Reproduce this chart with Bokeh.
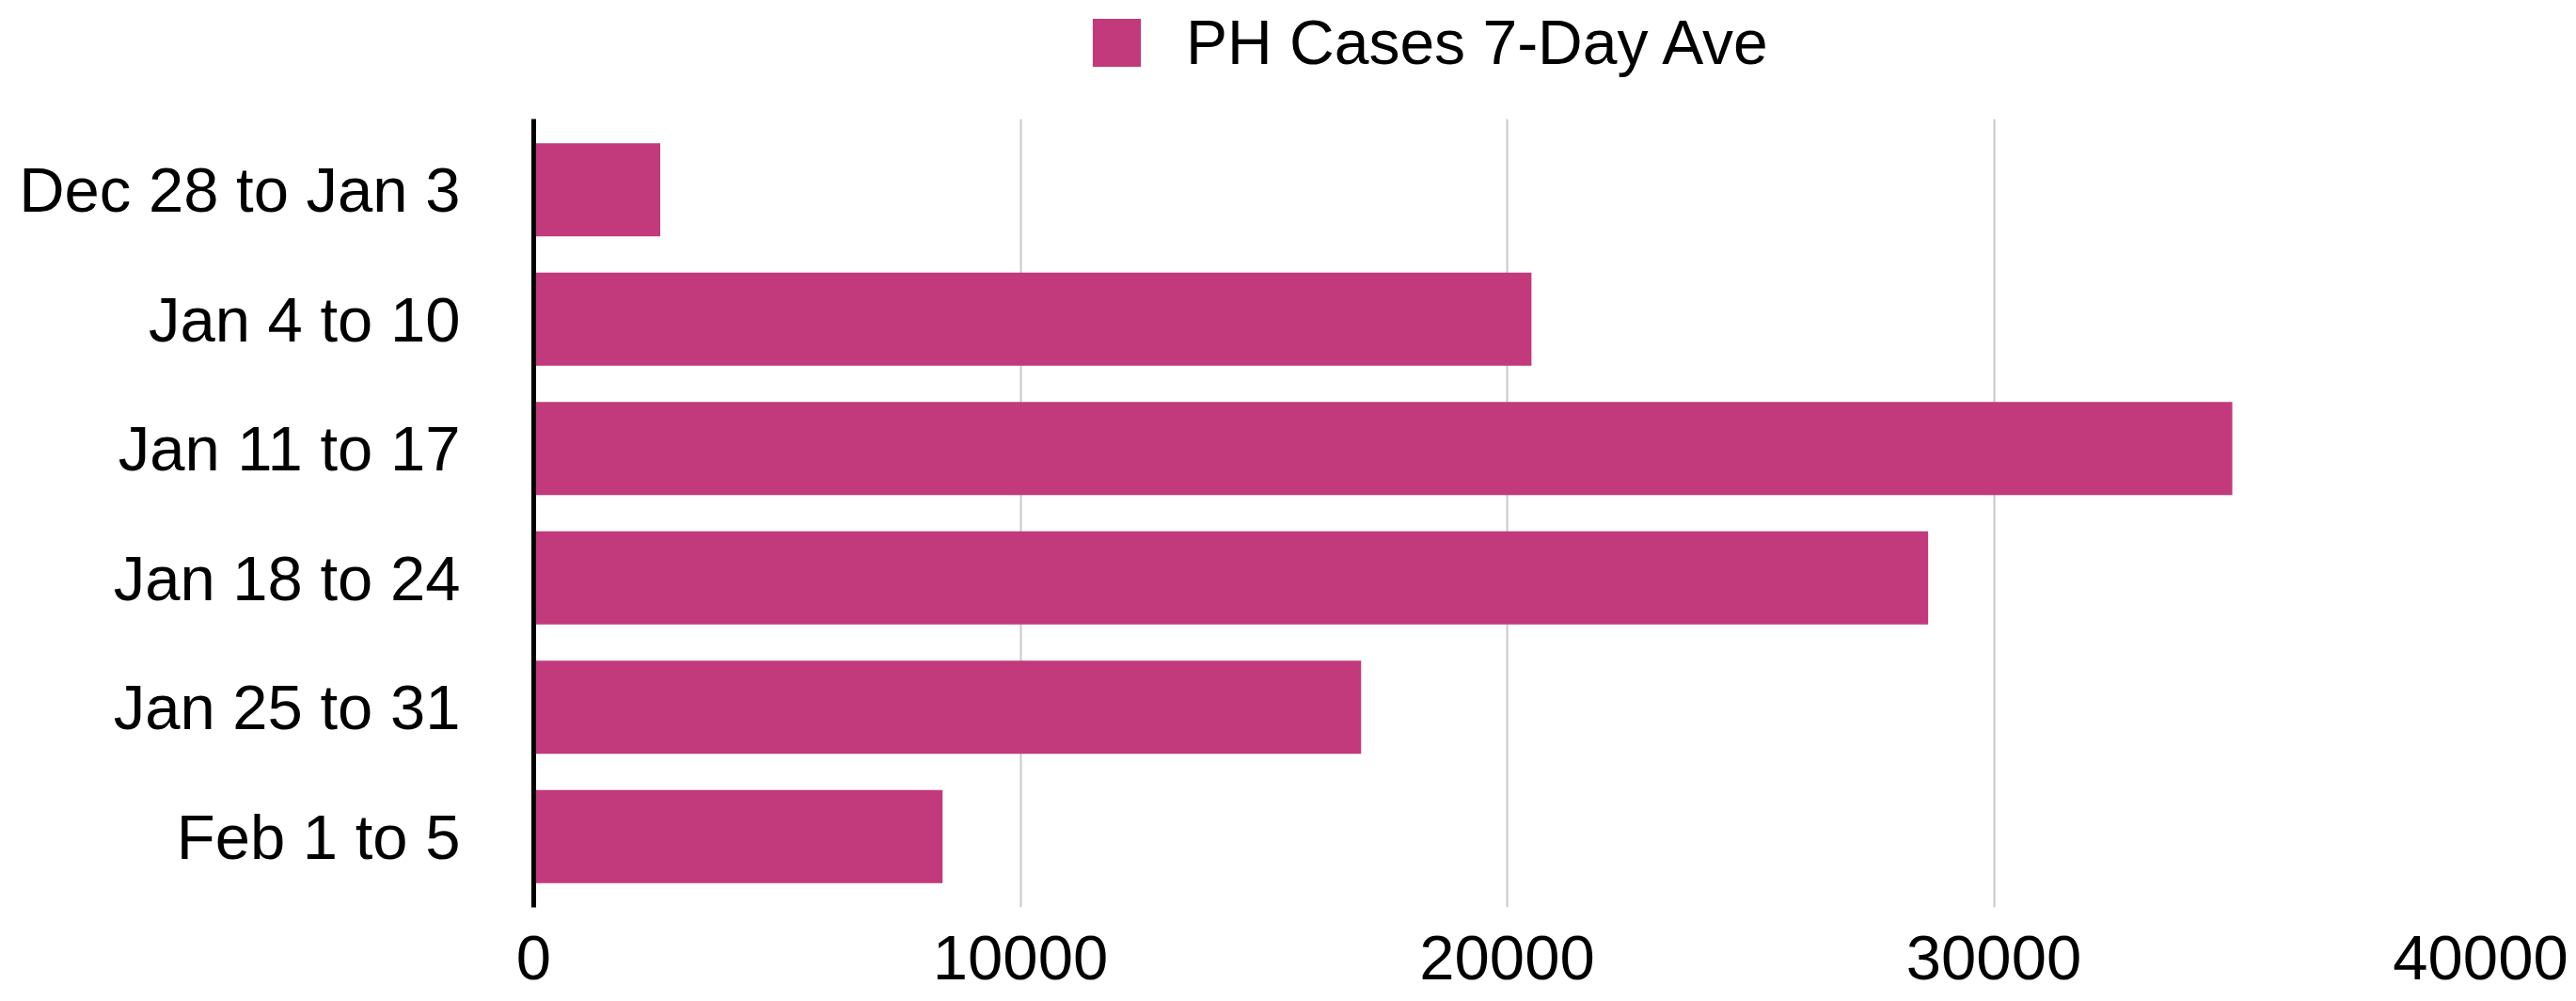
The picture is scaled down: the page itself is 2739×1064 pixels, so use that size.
from bokeh.plotting import figure
from bokeh.layouts import column
from bokeh.models import ColumnDataSource, FactorRange, Range1d, Legend, LegendItem, FixedTicker
from bokeh.embed import file_html
from bokeh.resources import INLINE

categories = ["Dec 28 to Jan 3", "Jan 4 to 10", "Jan 11 to 17", "Jan 18 to 24", "Jan 25 to 31", "Feb 1 to 5"]
cases = [2600, 20500, 34900, 28650, 17000, 8400]
x_ticks = [0, 10000, 20000, 30000, 40000]
series_name = "PH Cases 7-Day Ave"

FONT = "Liberation Sans"
BAR_COLOR = "#C23A7B"
W = 2739
BL, BR = 567, 102

src = ColumnDataSource(dict(cat=categories, val=cases))

# ---- legend strip (its swatch renderer uses the same data but is not drawn itself) ----
lg = figure(width=W, height=110, x_range=Range1d(0, 40000),
            y_range=FactorRange(factors=list(reversed(categories))),
            output_backend="svg", toolbar_location=None,
            min_border_left=BL, min_border_right=BR, min_border_top=0, min_border_bottom=0)
lg.axis.visible = False
lg.grid.visible = False
lg.outline_line_color = None
proxy = lg.hbar(y="cat", right="val", left=0, height=0.72, source=src,
                fill_color=BAR_COLOR, line_color=None)
proxy.visible = False
legend = Legend(items=[LegendItem(label=series_name, renderers=[proxy])],
                orientation="horizontal", location=(588, 27))
legend.label_text_font = FONT
legend.label_text_font_size = "66px"
legend.label_text_color = "black"
legend.glyph_width = 64
legend.glyph_height = 64
legend.label_standoff = 42
legend.border_line_color = None
legend.background_fill_alpha = 0
legend.padding = 0
legend.margin = 0
legend.click_policy = "none"
lg.add_layout(legend, "center")

# ---- main chart ----
p = figure(
    width=W, height=972,
    y_range=FactorRange(factors=list(reversed(categories)), range_padding=0.01576),
    x_range=Range1d(0, 40000),
    output_backend="svg", toolbar_location=None,
    min_border_left=BL, min_border_right=BR, min_border_top=16, min_border_bottom=118,
)
p.outline_line_color = None
p.background_fill_color = "white"
p.border_fill_color = "white"

p.hbar(y="cat", right="val", left=0, height=0.72, source=src,
       fill_color=BAR_COLOR, line_color=None)

# x axis
p.xaxis.ticker = FixedTicker(ticks=x_ticks)
p.xaxis.axis_line_color = None
p.xaxis.major_tick_line_color = None
p.xaxis.major_tick_out = 0
p.xaxis.minor_tick_line_color = None
p.xaxis.minor_tick_out = 0
p.xaxis.major_label_text_font = FONT
p.xaxis.major_label_text_font_size = "67px"
p.xaxis.major_label_text_color = "black"
p.xaxis.major_label_standoff = 30

# y axis
p.yaxis.axis_line_color = "black"
p.yaxis.axis_line_width = 5
p.yaxis.major_tick_line_color = None
p.yaxis.minor_tick_line_color = None
p.yaxis.major_label_text_font = FONT
p.yaxis.major_label_text_font_size = "67px"
p.yaxis.major_label_text_color = "black"
p.yaxis.major_label_standoff = 72

# grid
p.ygrid.grid_line_color = None
p.xgrid.ticker = FixedTicker(ticks=x_ticks[1:])
p.xgrid.grid_line_color = "#c8c8c8"
p.xgrid.grid_line_width = 2

layout = column(lg, p, spacing=0)
open("out.html", "w").write(file_html(layout, INLINE))
